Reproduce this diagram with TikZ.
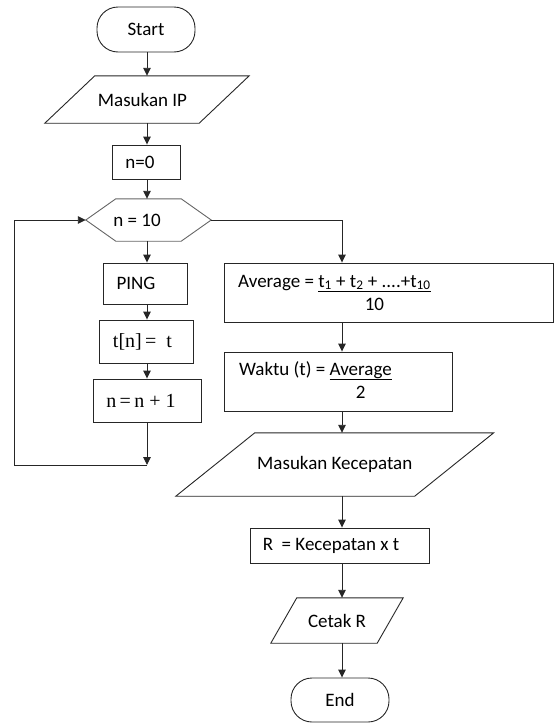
\documentclass[tikz,border=0pt]{standalone}
\usepackage[no-math]{fontspec}
\setmainfont{Carlito}
\newfontfamily\serifmath{Liberation Serif}
\usetikzlibrary{arrows.meta,calc}
\begin{document}
\begin{tikzpicture}[x=1pt,y=1pt]
\tikzset{
  txt/.style={font=\fontsize{19}{23}\selectfont, text=black, inner sep=0pt},
  mtxt/.style={font=\fontsize{20}{23}\serifmath},
  box/.style={txt, draw=black!85, line width=0.9pt, rectangle},
  term/.style={box, rounded corners=21pt},
  ghost/.style={txt, rectangle},
  shp/.style={draw=black!85, line width=0.9pt, line join=miter},
  arr/.style={-{Triangle[length=8pt,width=7.5pt]}, line width=0.9pt, draw=black!85},
}
\useasboundingbox (0,0) rectangle (555,-723);
\coordinate (col1) at (147,0);
\coordinate (col2) at (342,0);
% left column
\node[term, minimum width=98pt, minimum height=45pt] (start) at (146,-29.5) {Start};
\node[ghost, minimum width=154pt, minimum height=47pt] (ip) at (147,-99.5) {\hspace*{-9pt}Masukan IP};
\node[box, minimum width=68pt, minimum height=34pt] (n0) at (146,-162) {\hspace*{-12pt}n=0};
\node[ghost, minimum width=125pt, minimum height=42pt] (hex) at (148.5,-220) {\hspace*{-23pt}n = 10};
\node[box, minimum width=84pt, minimum height=41pt] (ping) at (145,-283.5) {\hspace*{-18pt}PING};
\node[box, mtxt, minimum width=94pt, minimum height=43pt] (tn) at (146,-341.5) {\hspace*{-7pt}t[n]\,=\ \ t};
\node[box, mtxt, minimum width=108pt, minimum height=43pt] (nn) at (147,-400.5) {\hspace*{-12pt}n\,=\,n + 1};
\coordinate (join) at (147,-465);
\coordinate (loopc) at (14,-465);
% shapes drawn around ghost nodes
\draw[shp] ($(ip.south west)+(-25,0)$) -- ($(ip.north west)+(25,0)$) -- ($(ip.north east)+(25,0)$) -- ($(ip.south east)+(-25,0)$) -- cycle;
\draw[shp, draw=black!60] (hex.west) -- ($(hex.north west)+(30,0)$) -- ($(hex.north east)+(-30,0)$) -- (hex.east) -- ($(hex.south east)+(-30,0)$) -- ($(hex.south west)+(30,0)$) -- cycle;
% right column
\node[box, minimum width=329pt, minimum height=59pt] (avg) at (388.5,-292.5) {};
\node[txt, anchor=base west] (avgtxt) at (238,-287) {Average = \begin{tabular}[t]{@{}c@{}}\underline{t\textsubscript{1} + t\textsubscript{2} + ....+t\textsubscript{10}}\\10\end{tabular}};
\node[box, minimum width=228pt, minimum height=59pt] (waktu) at (338,-381.5) {};
\node[txt, anchor=base west] (waktutxt) at (239,-375) {Waktu (t) = \begin{tabular}[t]{@{}c@{}}\underline{Average}\\2\end{tabular}};
\node[ghost, minimum width=238.5pt, minimum height=63pt] (mk) at (334.75,-464.5) {Masukan Kecepatan};
\draw[shp] ($(mk.south west)+(-39.5,0)$) -- ($(mk.north west)+(39.5,0)$) -- ($(mk.north east)+(39.5,0)$) -- ($(mk.south east)+(-39.5,0)$) -- cycle;
\node[box, minimum width=179pt, minimum height=35pt] (r) at (339.5,-545.5) {\hspace*{-17pt}R \ = Kecepatan x t};
\node[ghost, minimum width=106pt, minimum height=45pt] (cetak) at (337,-620.5) {Cetak R};
\draw[shp] ($(cetak.south west)+(-13,0)$) -- ($(cetak.north west)+(13,0)$) -- ($(cetak.north east)+(13,0)$) -- ($(cetak.south east)+(-13,0)$) -- cycle;
\node[term, minimum width=98pt, minimum height=44pt] (end) at (340,-700) {End};
% connectors left
\draw[arr] (col1 |- start.south) -- (col1 |- ip.north);
\draw[arr] (col1 |- ip.south) -- (col1 |- n0.north);
\draw[arr] (col1 |- n0.south) -- (col1 |- hex.north);
\draw[arr] (col1 |- hex.south) -- (col1 |- ping.north);
\draw[arr] (col1 |- ping.south) -- (col1 |- tn.north);
\draw[arr] (col1 |- tn.south) -- (col1 |- nn.north);
\draw[arr] (col1 |- nn.south) -- (join);
\draw[arr] (join) -- (loopc) |- (hex.west);
% connectors right
\draw[arr] (hex.east) -| (col2 |- avg.north);
\draw[arr] (col2 |- avg.south) -- (col2 |- waktu.north);
\draw[arr] (col2 |- waktu.south) -- (col2 |- mk.north);
\draw[arr] (col2 |- mk.south) -- (col2 |- r.north);
\draw[arr] (col2 |- r.south) -- (col2 |- cetak.north);
\draw[arr] (col2 |- cetak.south) -- (col2 |- end.north);
\end{tikzpicture}
\end{document}
